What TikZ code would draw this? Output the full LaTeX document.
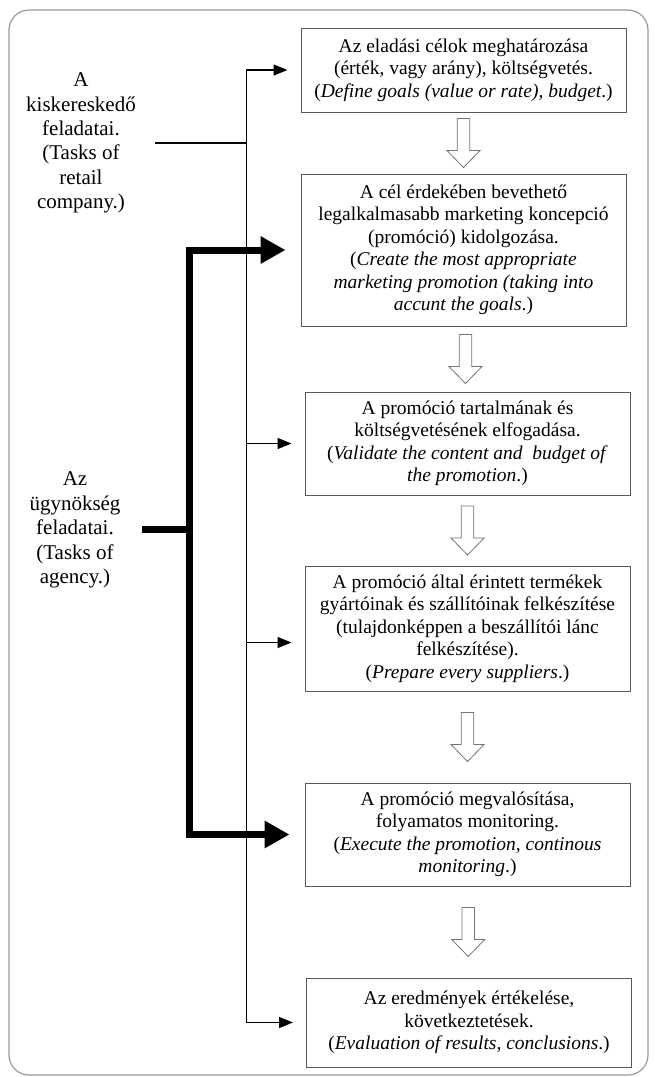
\documentclass[tikz,border=0pt]{standalone}
\usepackage{fontspec}
\setmainfont{Liberation Serif}
\usepackage{tikz}
\usetikzlibrary{arrows.meta,calc}

\tikzset{
  stepbox/.style = {draw = black!65, line width = 1pt, minimum width = 325pt,
    align = center, inner sep = 0pt, font = \fontsize{19.5}{22.5}\selectfont},
  tasklabel/.style = {align = center, font = \fontsize{21}{24.4}\selectfont},
  thinarrow/.style = {line width = 1.3pt, -{Triangle[length=14pt,width=11pt]}, shorten > = 13pt},
  thickarrow/.style = {line width = 7pt, -{Triangle[length=25pt,width=26pt]}, shorten > = 15pt},
  hollow/.pic = {\draw[black!55, line width = 0.8pt, fill = white]
    (-6.25,-24.5) -- (6.25,-24.5) -- (6.25,7.5) -- (16.5,7.5) -- (0,24.5)
    -- (-16.5,7.5) -- (-6.25,7.5) -- cycle;}
}

\begin{document}
\begin{tikzpicture}[x = 1pt, y = -1pt]
\useasboundingbox (0,0) rectangle (655,1077);
\draw[black!40, line width = 1.2pt, rounded corners = 20pt] (9,10) rectangle (648,1075);

% the steps
\node[stepbox, minimum height = 84pt] (b1) at (463.5,70) {Az eladási célok meghatározása\\(érték, vagy arány), költségvetés.\\(\textit{Define goals (value or rate), budget}.)};
\node[stepbox, minimum height = 152pt] (b2) at (463.5,250) {A cél érdekében bevethető\\legalkalmasabb marketing koncepció\\(promóció) kidolgozása.\\(\textit{Create the most appropriate}\\\textit{marketing promotion (taking into}\\\textit{accunt the goals}.)};
\node[stepbox, minimum height = 103pt] (b3) at (467.5,443.5) {A promóció tartalmának és\\költségvetésének elfogadása.\\(\textit{Validate the content and\ \ budget of}\\\textit{the promotion}.)};
\node[stepbox, minimum height = 125pt] (b4) at (467.5,628.5) {A promóció által érintett termékek\\gyártóinak és szállítóinak felkészítése\\(tulajdonképpen a beszállítói lánc\\felkészítése).\\(\textit{Prepare every suppliers}.)};
\node[stepbox, minimum height = 103pt] (b5) at (467.5,834.5) {A promóció megvalósítása,\\folyamatos monitoring.\\(\textit{Execute the promotion, continous}\\\textit{monitoring}.)};
\node[stepbox, minimum height = 89pt] (b6) at (469,1022.5) {Az eredmények értékelése,\\következtetések.\\(\textit{Evaluation of results, conclusions}.)};

\foreach \u/\v in {b1/b2, b2/b3, b3/b4, b4/b5, b5/b6}
  \pic at ($(\u.south)!0.5!(\v.north)$) {hollow};

% who does what
\node[tasklabel] (retail) at (81,143) {A\\kiskereskedő\\feladatai.\\(Tasks of\\retail\\company.)};
\node[tasklabel] (agency) at (75,530) {Az\\ügynökség\\feladatai.\\(Tasks of\\agency.)};

\coordinate (rl) at (155,143);
\coordinate (rt) at (246.5,143);
\coordinate (b4in) at ($(b4.west)+(0,14)$);
\draw[line width = 1.3pt] (rl) -- (rt);
\draw[thinarrow] (rt) |- (b1.west);
\draw[thinarrow] (rt) |- (b6.west);
\draw[thinarrow] (rt |- b3.west) -- (b3.west);
\draw[thinarrow] (rt |- b4in) -- (b4in);

\coordinate (al) at (142,529);
\coordinate (ag) at (189,529);
\draw[line width = 7pt] (al) -- ([xshift = 3.5pt]ag);
\draw[thickarrow] (ag) |- (b2.west);
\draw[thickarrow] (ag) |- (b5.west);
\end{tikzpicture}
\end{document}
